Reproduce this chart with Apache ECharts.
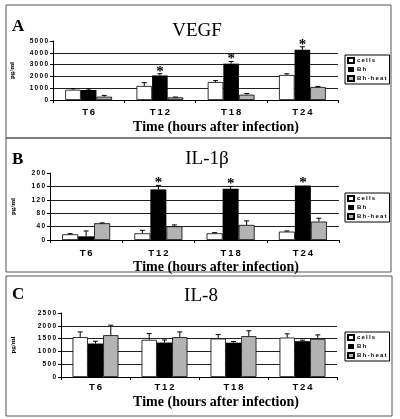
<!DOCTYPE html>
<html>
<head>
<meta charset="utf-8">
<script src="https://cdn.jsdelivr.net/npm/echarts@6/dist/echarts.min.js"></script>
<style>html,body{margin:0;padding:0;background:#fff}#c{width:400px;height:419px}</style>
</head>
<body>
<div id="c"></div>
<script>
// ---- data ----
var categories = ['T6', 'T12', 'T18', 'T24'];
var seriesNames = ['cells', 'Bh', 'Bh-heat'];

var vegfCells = [870, 1190, 1520, 2120];
var vegfCellsErr = [90, 280, 120, 100];
var vegfBh = [850, 2080, 3080, 4260];
var vegfBhErr = [80, 150, 180, 250];
var vegfHeat = [280, 220, 450, 1100];
var vegfHeatErr = [110, 30, 100, 50];
var vegfSig = [0, 1, 1, 1];

var il1Cells = [17, 20, 20, 25];
var il1CellsErr = [2, 9, 2, 2];
var il1Bh = [11, 151, 153, 163];
var il1BhErr = [16, 12, 7, 0];
var il1Heat = [50, 41, 45, 55];
var il1HeatErr = [1, 4, 12, 10];
var il1Sig = [0, 1, 1, 1];

var il8Cells = [1556, 1451, 1502, 1540];
var il8CellsErr = [205, 245, 155, 145];
var il8Bh = [1307, 1346, 1340, 1400];
var il8BhErr = [90, 100, 45, 40];
var il8Heat = [1634, 1556, 1595, 1490];
var il8HeatErr = [390, 205, 210, 155];
var il8Sig = [0, 0, 0, 0];

var panelTitles = ['VEGF', 'IL-1β', 'IL-8'];
var panelLetters = ['A', 'B', 'C'];
var xTitle = 'Time (hours after infection)';
var yTitle = 'pg/ml';
var yMax = [5000, 200, 2500];
var yStep = [1000, 40, 500];

// ---- layout ----
var SANS = 'Liberation Sans';
var SERIF = 'Liberation Serif';
var grids = [
  {left: 53, right: 62, top: 41, bottom: 319},
  {left: 50, right: 61, top: 173, bottom: 179},
  {left: 61, right: 63, top: 313, bottom: 42}
];
var barW = [15.6, 16, 15.3];
var catMargin = [7, 8, 5];
var nameGap = [37, 33, 44];
var titleTops = [
  {letter: 18, name: 22, x: 120},
  {letter: 151, name: 150, x: 260},
  {letter: 286, name: 287, x: 395}
];
var titleCenters = [197, 207, 201];
var legendTops = [55, 193, 332];
var colors = ['#ffffff', '#000000', '#b3b3b3'];

var panels = [
  {vals: [vegfCells, vegfBh, vegfHeat], errs: [vegfCellsErr, vegfBhErr, vegfHeatErr], sig: vegfSig},
  {vals: [il1Cells, il1Bh, il1Heat], errs: [il1CellsErr, il1BhErr, il1HeatErr], sig: il1Sig},
  {vals: [il8Cells, il8Bh, il8Heat], errs: [il8CellsErr, il8BhErr, il8HeatErr], sig: il8Sig}
];

function spaced(s) { return String(s).split('').join('\u2009'); }

var option = {
  animation: false,
  backgroundColor: '#fff',
  title: [], grid: [], xAxis: [], yAxis: [], legend: [], series: [],
  graphic: []
};

panels.forEach(function (p, g) {
  option.grid.push(grids[g]);
  option.xAxis.push({
    type: 'category', gridIndex: g, data: categories,
    axisLine: {lineStyle: {color: '#000', width: 1}},
    axisTick: {show: true, length: 3, lineStyle: {color: '#000'}},
    axisLabel: {margin: catMargin[g], fontFamily: SANS, fontWeight: 'bold', fontSize: 9.5, color: '#000',
      formatter: function (v) { return spaced(v); }},
    splitLine: {show: false}
  });
  option.yAxis.push({
    type: 'value', gridIndex: g, min: 0, max: yMax[g], interval: yStep[g],
    name: yTitle, nameLocation: 'middle', nameRotate: 90, nameGap: nameGap[g],
    nameTextStyle: {fontFamily: SERIF, fontSize: 7, fontWeight: 'bold', color: '#000'},
    axisLine: {show: true, lineStyle: {color: '#000', width: 1}},
    axisTick: {show: true, length: 3, lineStyle: {color: '#000'}},
    axisLabel: {margin: 5, fontFamily: SANS, fontWeight: 'bold', fontSize: 6.5, color: '#000',
      formatter: function (v) { return spaced(v); }},
    splitLine: {show: true, showMaxLine: false, lineStyle: {color: '#222', width: 1}}
  });
  option.legend.push({
    orient: 'vertical', left: 345, top: legendTops[g],
    data: seriesNames.map(function (n) { return {name: n, icon: 'rect'}; }),
    itemWidth: 6, itemHeight: 5, itemGap: 2.5,
    padding: [2, 3, 2, 2],
    borderColor: '#000', borderWidth: 1,
    textStyle: {fontFamily: SANS, fontSize: 6, fontWeight: 'bold', color: '#000', padding: [0, 0, 0, -2]},
    formatter: function (n) { return spaced(n); },
    selectedMode: false
  });
  p.vals.forEach(function (vals, k) {
    option.series.push({
      type: 'bar', name: seriesNames[k], xAxisIndex: g, yAxisIndex: g,
      data: vals, barWidth: barW[g], barGap: '0%',
      itemStyle: {color: colors[k], borderColor: '#000', borderWidth: k === 1 ? 0 : 0.8},
      z: 2
    });
  });
  var errData = [];
  p.vals.forEach(function (vals, k) {
    vals.forEach(function (v, i) {
      errData.push([i, v, p.errs[k][i], k, (k === 1 && p.sig[i]) ? 1 : 0]);
    });
  });
  (function (bw) {
    option.series.push({
      type: 'custom', xAxisIndex: g, yAxisIndex: g, data: errData, z: 5,
      renderItem: function (params, api) {
        var i = api.value(0), v = api.value(1), e = api.value(2), k = api.value(3), s = api.value(4);
        var base = api.coord([i, v]);
        var top = api.coord([i, v + e]);
        var x = base[0] + (k - 1) * bw;
        var ch = [];
        if (e > 0) {
          ch.push({type: 'line', shape: {x1: x, y1: base[1], x2: x, y2: top[1]}, style: {stroke: '#000', lineWidth: 1}});
          ch.push({type: 'line', shape: {x1: x - 2.5, y1: top[1], x2: x + 2.5, y2: top[1]}, style: {stroke: '#000', lineWidth: 1}});
        }
        if (s) {
          ch.push({type: 'text', x: x, y: top[1] - 2, style: {text: '*', fontFamily: SERIF, fontWeight: 'bold', fontSize: 15,
            fill: '#000', align: 'center', verticalAlign: 'middle'}});
        }
        return {type: 'group', children: ch};
      }
    });
  })(barW[g]);

  option.title.push({text: panelLetters[g], left: 12, top: titleTops[g].letter, padding: 0,
    textStyle: {fontFamily: SERIF, fontSize: 17, fontWeight: 'bold', color: '#000'}});
  option.title.push({text: panelTitles[g], left: titleCenters[g], textAlign: 'center', top: titleTops[g].name, padding: 0,
    textStyle: {fontFamily: SERIF, fontSize: 19, fontWeight: 'normal', color: '#000'}});
  option.title.push({text: xTitle, left: 216, textAlign: 'center', top: titleTops[g].x, padding: 0,
    textStyle: {fontFamily: SERIF, fontSize: 14, fontWeight: 'bold', color: '#000'}});
});

// panel frames
var frames = [[6, 5, 385, 133], [6, 138, 385, 134], [6, 276, 386, 140]];
frames.forEach(function (f) {
  option.graphic.push({type: 'rect', shape: {x: f[0], y: f[1], width: f[2], height: f[3]},
    style: {fill: null, stroke: '#555', lineWidth: 1}, silent: true, z: -10});
});

var chart = echarts.init(document.getElementById('c'), null, {renderer: 'canvas'});
chart.setOption(option);
</script>
</body>
</html>
